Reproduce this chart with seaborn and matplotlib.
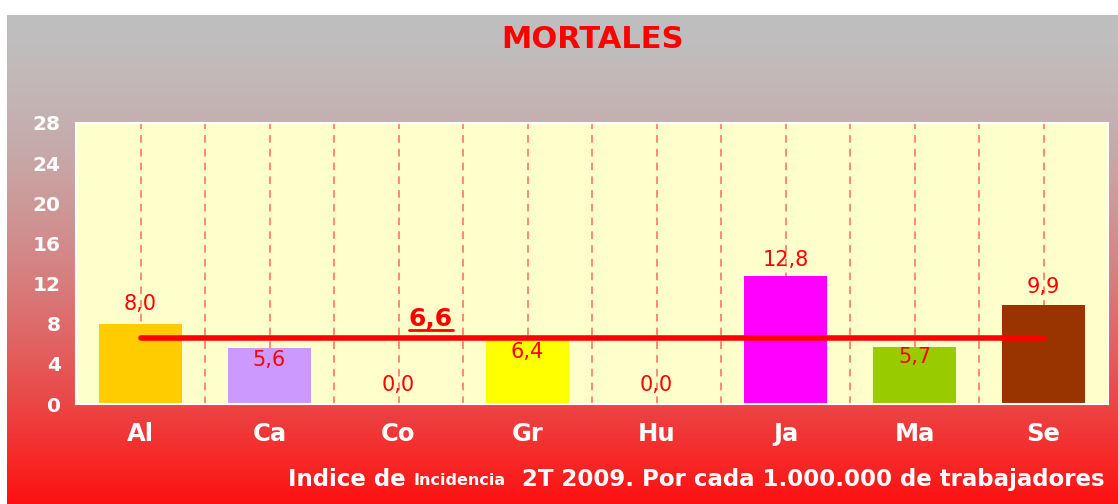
import numpy as np
import matplotlib
matplotlib.use("Agg")
import matplotlib.pyplot as plt
from matplotlib.lines import Line2D
import seaborn as sns

# datos
provincias = ["Al", "Ca", "Co", "Gr", "Hu", "Ja", "Ma", "Se"]
mortales = [8.0, 5.6, 0.0, 6.4, 0.0, 12.8, 5.7, 9.9]
media = 6.6
colores = ["#ffcc00", "#cc99ff", "#ffffcc", "#ffff00", "#ffffcc", "#ff00ff", "#99cc00", "#993300"]
yticks = [0, 4, 8, 12, 16, 20, 24, 28]

# desplazamiento vertical de las etiquetas (unidades de datos)
lab_dy = [2.0, -1.2, 1.9, -1.2, 1.9, 1.5, -1.0, 1.8]

sns.set_style("white")
plt.rcParams["font.family"] = ["DejaVu Sans"]

fig = plt.figure(figsize=(11.18, 5.04), dpi=100)
fig.patch.set_facecolor("white")

# fondo degradado gris -> rojo
bg = fig.add_axes([7/1118, 0, 1 - 7/1118, 489/504])
top = np.array([191, 191, 191]) / 255
bot = np.array([255, 16, 16]) / 255
t = np.linspace(0, 1, 256)[:, None] ** 1.6
grad = top[None, :] * (1 - t) + bot[None, :] * t
bg.imshow(grad[:, None, :], aspect="auto", extent=[0, 1, 0, 1])
bg.set_axis_off()

ax = fig.add_axes([76/1118, 100/504, 1032/1118, 281/504])
ax.set_facecolor("#ffffcc")

sns.barplot(x=provincias, y=mortales, hue=provincias, palette=colores, width=0.64,
            saturation=1, legend=False, ax=ax, zorder=2, linewidth=0, edgecolor="none")

ax.set_xlim(-0.5, 7.5)
ax.set_ylim(0, 28)
ax.set_yticks(yticks)
ax.set_xticks(np.arange(-0.5, 8.0, 1.0), minor=True)
ax.set_xlabel("")
ax.set_ylabel("")

ax.set_axisbelow(True)
ax.grid(True, axis="x", which="both", color="#ff6a5a", linestyle=(0, (5, 4)), linewidth=1.1)
ax.grid(False, axis="y")

for s in ax.spines.values():
    s.set_color("white")
    s.set_linewidth(1.5)

ax.tick_params(axis="y", colors="white", length=5, width=1, labelsize=14.5, pad=6)
ax.tick_params(axis="x", which="major", length=0, labelcolor="white", labelsize=17.5, pad=13)
ax.tick_params(axis="x", which="minor", length=8, width=1, color="white", direction="out")
for lb in ax.get_yticklabels() + ax.get_xticklabels():
    lb.set_fontweight("bold")

# etiquetas de valor
for i, v in enumerate(mortales):
    ax.text(i, v + lab_dy[i], f"{v:.1f}".replace(".", ","), color="red",
            ha="center", va="center", fontsize=15, zorder=5)

# linea media
ax.plot([0, len(provincias) - 1], [media, media], color="red", lw=4,
        solid_capstyle="round", zorder=4)
tm = ax.text(2.25, media + 1.9, f"{media:.1f}".replace(".", ","), color="red",
             ha="center", va="center", fontsize=18, fontweight="bold", zorder=5)

fig.text(592/1118, 1 - 40/504, "MORTALES", color="red", fontsize=22,
         fontweight="bold", ha="center", va="center")

# pie
t1 = fig.text(288/1118, 1 - 486/504, "Indice de ", color="white", fontsize=16.5,
              fontweight="bold", ha="left", va="baseline")
t2 = ax.annotate("Incidencia", xy=(1, 0), xycoords=t1, xytext=(0, 2),
                 textcoords="offset points", color="white", fontsize=11.5,
                 fontweight="bold", ha="left", va="bottom", annotation_clip=False)
t3 = ax.annotate("  2T 2009. Por cada 1.000.000 de trabajadores", xy=(1, 0), xycoords=t2,
                 xytext=(0, -2), textcoords="offset points",
                 color="white", fontsize=16.5, fontweight="bold", ha="left", va="bottom",
                 annotation_clip=False)

# subrayado de la media
fig.canvas.draw()
bb = tm.get_window_extent().transformed(fig.transFigure.inverted())
fig.add_artist(Line2D([bb.x0, bb.x1], [bb.y0 + 0.002, bb.y0 + 0.002], color="red",
                      lw=2, transform=fig.transFigure, zorder=6))

fig.savefig("out.png", dpi=100)
